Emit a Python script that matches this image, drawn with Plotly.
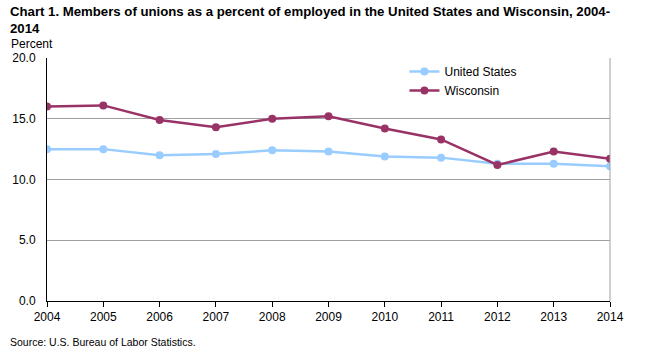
import plotly.graph_objects as go

years = list(range(2004, 2015))
us = [12.5, 12.5, 12.0, 12.1, 12.4, 12.3, 11.9, 11.8, 11.3, 11.3, 11.1]
wi = [16.0, 16.1, 14.9, 14.3, 15.0, 15.2, 14.2, 13.3, 11.2, 12.3, 11.7]
yticks = [0, 5, 10, 15, 20]

W, H = 650, 353
L, R, T, B = 43, 40, 58, 52
PW, PH = W - L - R, H - T - B

fig = go.Figure()
fig.add_trace(go.Scatter(x=years, y=us, name="United States", mode="lines+markers",
                         line=dict(color="#99ccff", width=2.5),
                         marker=dict(color="#99ccff", size=8)))
fig.add_trace(go.Scatter(x=years, y=wi, name="Wisconsin", mode="lines+markers",
                         line=dict(color="#993366", width=2.5),
                         marker=dict(color="#993366", size=8)))

font_main = "Liberation Sans Narrow, Arial Narrow, Liberation Sans, Arial"
font_ax = "Liberation Sans, Arial"

def px(x):
    return (x - L) / PW

def py(y):
    return (H - B - y) / PH

fig.update_layout(
    width=W, height=H,
    margin=dict(l=L, r=R, t=T, b=B, pad=0),
    paper_bgcolor="white", plot_bgcolor="white",
    showlegend=True,
    legend=dict(x=px(403), y=py(57),
                xanchor="left", yanchor="top", bgcolor="rgba(0,0,0,0)",
                font=dict(family=font_ax, size=12, color="black"),
                tracegroupgap=0, itemwidth=30),
    xaxis=dict(range=[2004, 2014], tickvals=years, ticktext=[str(y) for y in years],
               showgrid=False, zeroline=False, showline=True, linecolor="black", linewidth=1,
               ticks="outside", ticklen=5, tickcolor="black",
               tickfont=dict(family=font_ax, size=12, color="black")),
    yaxis=dict(range=[0, 20], tickvals=yticks, ticktext=[f"{v:.1f}" for v in yticks],
               showgrid=True, gridcolor="#a0a0a0", gridwidth=1, zeroline=False,
               showline=True, linecolor="black", linewidth=1, ticks="", ticklabelstandoff=8,
               tickfont=dict(family=font_ax, size=12, color="black")),
    annotations=[
        dict(text="<b>Chart 1. Members of unions as a percent of employed in the United States and Wisconsin, 2004-<br>2014</b>",
             xref="paper", yref="paper", x=px(4), y=py(2), xanchor="left", yanchor="top",
             align="left", showarrow=False,
             font=dict(family=font_main, size=13.2, color="black")),
        dict(text="Percent", xref="paper", yref="paper", x=px(5), y=py(44),
             xanchor="left", yanchor="middle", showarrow=False,
             font=dict(family=font_ax, size=12, color="black")),
        dict(text="Source: U.S. Bureau of Labor Statistics.", xref="paper", yref="paper",
             x=px(4), y=py(342),
             xanchor="left", yanchor="middle", showarrow=False,
             font=dict(family=font_ax, size=10.5, color="black")),
    ],
    shapes=[dict(type="line", xref="paper", yref="paper", x0=1, x1=1, y0=0, y1=1,
                 line=dict(color="#a0a0a0", width=1))],
)

fig.write_html("out.html")
